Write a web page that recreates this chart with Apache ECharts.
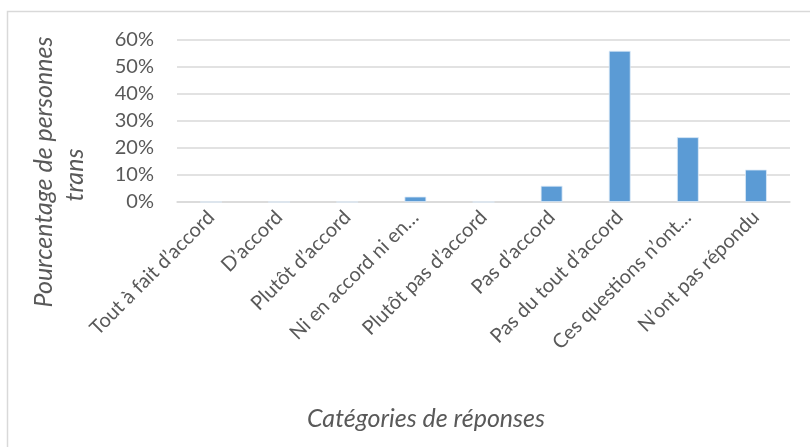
<!DOCTYPE html>
<html><head><meta charset="utf-8">
<script src="https://cdn.jsdelivr.net/npm/echarts@6/dist/echarts.min.js"></script>
<style>html,body{margin:0;padding:0;background:#fff}#c{width:810px;height:447px}</style>
</head><body><div id="c"></div>
<script>
const categories = ["Tout à fait d’accord","D’accord","Plutôt d’accord","Ni en accord ni en…","Plutôt pas d’accord","Pas d’accord","Pas du tout d’accord","Ces questions n’ont…","N’ont pas répondu"];
const values = [0, 0, 0, 2, 0, 6, 56, 24, 12];
const yTicks = [0, 10, 20, 30, 40, 50, 60];
const yAxisTitle1 = "Pourcentage de personnes";
const yAxisTitle2 = "trans";
const xAxisTitle = "Catégories de réponses";

const chart = echarts.init(document.getElementById('c'), null, {renderer:'canvas'});
const font = 'Lato, "Open Sans", sans-serif';
const titleFont = 'italic 25px ' + font;
chart.setOption({
  animation:false,
  graphic:[
    {type:'rect', shape:{x:7.5,y:11.5,width:820,height:460}, style:{fill:'none',stroke:'#d9d9d9',lineWidth:1.5}, silent:true},
    {type:'text', x:426, y:419, style:{text:xAxisTitle, font:titleFont, fill:'#595959', align:'center', verticalAlign:'middle'}},
    {type:'text', x:44, y:172, rotation:Math.PI/2, style:{text:yAxisTitle1, font:titleFont, fill:'#595959', align:'center', verticalAlign:'middle'}},
    {type:'text', x:75, y:175, rotation:Math.PI/2, style:{text:yAxisTitle2, font:titleFont, fill:'#595959', align:'center', verticalAlign:'middle'}}
  ],
  grid:{left:177, right:20, top:40, bottom:245},
  xAxis:{type:'category', data:categories,
    axisLine:{lineStyle:{color:'#d9d9d9', width:1.5}}, axisTick:{show:false},
    axisLabel:{rotate:45, interval:0, fontSize:20, color:'#595959', fontFamily:font, margin:12}},
  yAxis:{type:'value', min:yTicks[0], max:yTicks[yTicks.length-1], interval:10,
    axisLine:{show:false}, axisTick:{show:false},
    axisLabel:{formatter:'{value}%', fontSize:20, color:'#595959', fontFamily:font, margin:23},
    splitLine:{lineStyle:{color:'#d9d9d9', width:1.5}}},
  series:[{type:'bar', data:values, barWidth:'32%', itemStyle:{color:'#5b9bd5', borderColor:'#deebf7', borderWidth:0.8}}]
});
</script></body></html>
